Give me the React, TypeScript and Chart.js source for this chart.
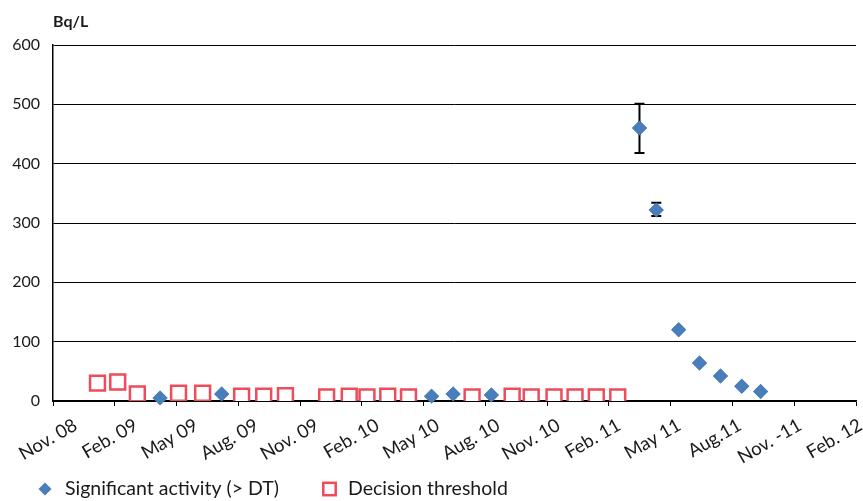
import React, { useEffect, useRef } from 'react';
import { Chart, registerables } from 'chart.js';

Chart.register(...registerables);

const FONT = 'Lato';
const TEXT = '#1a1a1a';
const BLUE = '#4a7ebb';
const RED = '#ee4b5b';

const tickLabels = ['Nov. 08', 'Feb. 09', 'May 09', 'Aug. 09', 'Nov. 09', 'Feb. 10', 'May 10', 'Aug. 10', 'Nov. 10', 'Feb. 11', 'May 11', 'Aug.11', 'Nov. -11', 'Feb. 12'];

const sigDates = ['2009-04-07', '2009-07-07', '2010-05-13', '2010-06-14', '2010-08-10', '2011-03-16', '2011-04-10', '2011-05-13', '2011-06-13', '2011-07-14', '2011-08-15', '2011-09-12'];
const sigValues = [5, 12, 8, 12, 10, 460, 322, 120, 64, 42, 25, 16];
const sigErrLow: (number | null)[] = [null, null, null, null, null, 418, 312, null, null, null, null, null];
const sigErrHigh: (number | null)[] = [null, null, null, null, null, 501, 334, null, null, null, null, null];

const dtDates = ['2009-01-06', '2009-02-05', '2009-03-04', '2009-05-04', '2009-06-09', '2009-08-06', '2009-09-08', '2009-10-10', '2009-12-10', '2010-01-13', '2010-02-08', '2010-03-09', '2010-04-09', '2010-07-12', '2010-09-10', '2010-10-08', '2010-11-11', '2010-12-12', '2011-01-13', '2011-02-13'];
const dtValues = [30, 32, 12, 13, 13, 8, 8, 9, 7, 8, 7, 8, 7, 7, 8, 7, 7, 7, 7, 7];

// months since 1 Nov 2008
function toMonths(s: string): number {
  const [y, m, d] = s.split('-').map(Number);
  const dim = new Date(y, m, 0).getDate();
  return (y - 2008) * 12 + (m - 11) + (d - 1) / dim;
}

const errorBarPlugin = {
  id: 'errorBars',
  afterDatasetsDraw(chart: any) {
    const { ctx, scales } = chart;
    const meta = chart.getDatasetMeta(0);
    ctx.save();
    ctx.strokeStyle = '#000';
    ctx.lineWidth = 2;
    sigDates.forEach((d, i) => {
      const lo = sigErrLow[i];
      const hi = sigErrHigh[i];
      if (lo == null || hi == null) return;
      const x = scales.x.getPixelForValue(toMonths(d));
      const y1 = scales.y.getPixelForValue(lo);
      const y2 = scales.y.getPixelForValue(hi);
      const cap = 5;
      ctx.beginPath();
      ctx.moveTo(x, y1);
      ctx.lineTo(x, y2);
      ctx.moveTo(x - cap, y1);
      ctx.lineTo(x + cap, y1);
      ctx.moveTo(x - cap, y2);
      ctx.lineTo(x + cap, y2);
      ctx.stroke();
    });
    meta.data.forEach((el: any) => el.draw(ctx, chart.chartArea));
    ctx.restore();
  },
};

// rotated date labels, placed with the xLabels scale
const dateLabelPlugin = {
  id: 'dateLabels',
  afterDraw(chart: any) {
    const { ctx } = chart;
    const sc = chart.scales.xLabels;
    const size = 18.5;
    const lh = size * 1.2;
    ctx.save();
    ctx.font = `${size}px ${FONT}`;
    ctx.fillStyle = TEXT;
    ctx.textAlign = 'right';
    ctx.textBaseline = 'middle';
    tickLabels.forEach((lab, i) => {
      const px = sc.getPixelForValue(i * 3);
      const py = sc.top + 8;
      ctx.save();
      ctx.translate(px, py);
      ctx.rotate(-Math.PI / 6);
      ctx.fillText(lab, 0, lh / 2);
      ctx.restore();
    });
    ctx.restore();
  },
};

const unitTitlePlugin = {
  id: 'unitTitle',
  afterDraw(chart: any) {
    const { ctx, chartArea } = chart;
    ctx.save();
    ctx.font = `bold 16px ${FONT}`;
    ctx.fillStyle = TEXT;
    ctx.textAlign = 'left';
    ctx.textBaseline = 'middle';
    ctx.fillText('Bq/L', chartArea.left, 22);
    ctx.restore();
  },
};

const legendPlugin = {
  id: 'customLegend',
  afterDraw(chart: any) {
    const { ctx } = chart;
    const ds = chart.data.datasets;
    const y = 489;
    ctx.save();
    ctx.font = `19.5px ${FONT}`;
    ctx.textBaseline = 'middle';
    ctx.textAlign = 'left';
    const x1 = 45;
    ctx.fillStyle = ds[0].backgroundColor;
    ctx.beginPath();
    ctx.moveTo(x1, y - 6.5);
    ctx.lineTo(x1 + 6.5, y);
    ctx.lineTo(x1, y + 6.5);
    ctx.lineTo(x1 - 6.5, y);
    ctx.closePath();
    ctx.fill();
    ctx.fillStyle = TEXT;
    ctx.fillText(ds[0].label, 65, y);
    const x2 = 329.5;
    ctx.strokeStyle = ds[1].borderColor;
    ctx.lineWidth = 2.5;
    ctx.strokeRect(x2 - 6.2, y - 6.2, 12.4, 12.4);
    ctx.fillText(ds[1].label, 348, y);
    ctx.restore();
  },
};

const zeroPadding = (s: any) => {
  s.paddingLeft = 0;
  s.paddingRight = 0;
  s.paddingTop = 0;
  s.paddingBottom = 0;
};

export default function App() {
  const ref = useRef<HTMLCanvasElement>(null);
  useEffect(() => {
    document.body.style.margin = '0';
    document.body.style.overflow = 'hidden';
    const chart = new Chart(ref.current!, {
      type: 'scatter',
      data: {
        datasets: [
          {
            label: 'Significant activity (> DT)',
            data: sigDates.map((d, i) => ({ x: toMonths(d), y: sigValues[i] })),
            pointStyle: 'rectRot',
            pointRadius: 7.5,
            pointHoverRadius: 7.5,
            backgroundColor: BLUE,
            borderColor: BLUE,
            borderWidth: 0,
          },
          {
            label: 'Decision threshold',
            data: dtDates.map((d, i) => ({ x: toMonths(d), y: dtValues[i] })),
            pointStyle: 'rect',
            pointRadius: 10.5,
            pointHoverRadius: 10.5,
            backgroundColor: '#ffffff',
            borderColor: RED,
            borderWidth: 2.5,
          },
        ],
      },
      options: {
        animation: false,
        responsive: false,
        maintainAspectRatio: false,
        layout: { padding: { top: 45, right: 7, left: 0, bottom: 30 } },
        plugins: {
          legend: { display: false },
          tooltip: { enabled: false },
        },
        scales: {
          x: {
            type: 'linear',
            position: 'bottom',
            min: 0,
            max: 39,
            ticks: { stepSize: 3, display: false },
            grid: { drawOnChartArea: false, drawTicks: true, tickLength: 5, color: '#000', lineWidth: 1 },
            border: { display: true, color: '#000', width: 1.5 },
            afterFit: (s: any) => { s.height = 5; zeroPadding(s); },
          },
          xLabels: {
            type: 'linear',
            position: 'bottom',
            min: -0.8446,
            max: 39.05,
            ticks: { display: false },
            grid: { display: false },
            border: { display: false },
            afterFit: (s: any) => { s.height = 65; zeroPadding(s); },
          },
          y: {
            min: 0,
            max: 600,
            ticks: {
              stepSize: 100,
              padding: 13,
              color: TEXT,
              font: { family: FONT, size: 16 },
            },
            grid: { color: '#000', lineWidth: 1, drawTicks: false },
            border: { display: true, color: '#000', width: 1.5 },
            afterFit: (s: any) => { s.width = 53; },
          },
        },
      },
      plugins: [errorBarPlugin, dateLabelPlugin, unitTitlePlugin, legendPlugin],
    });
    return () => chart.destroy();
  }, []);
  return (
    <div style={{ width: 863, height: 501, overflow: 'hidden' }}>
      <canvas ref={ref} width={869} height={501} style={{ display: 'block' }} />
    </div>
  );
}
